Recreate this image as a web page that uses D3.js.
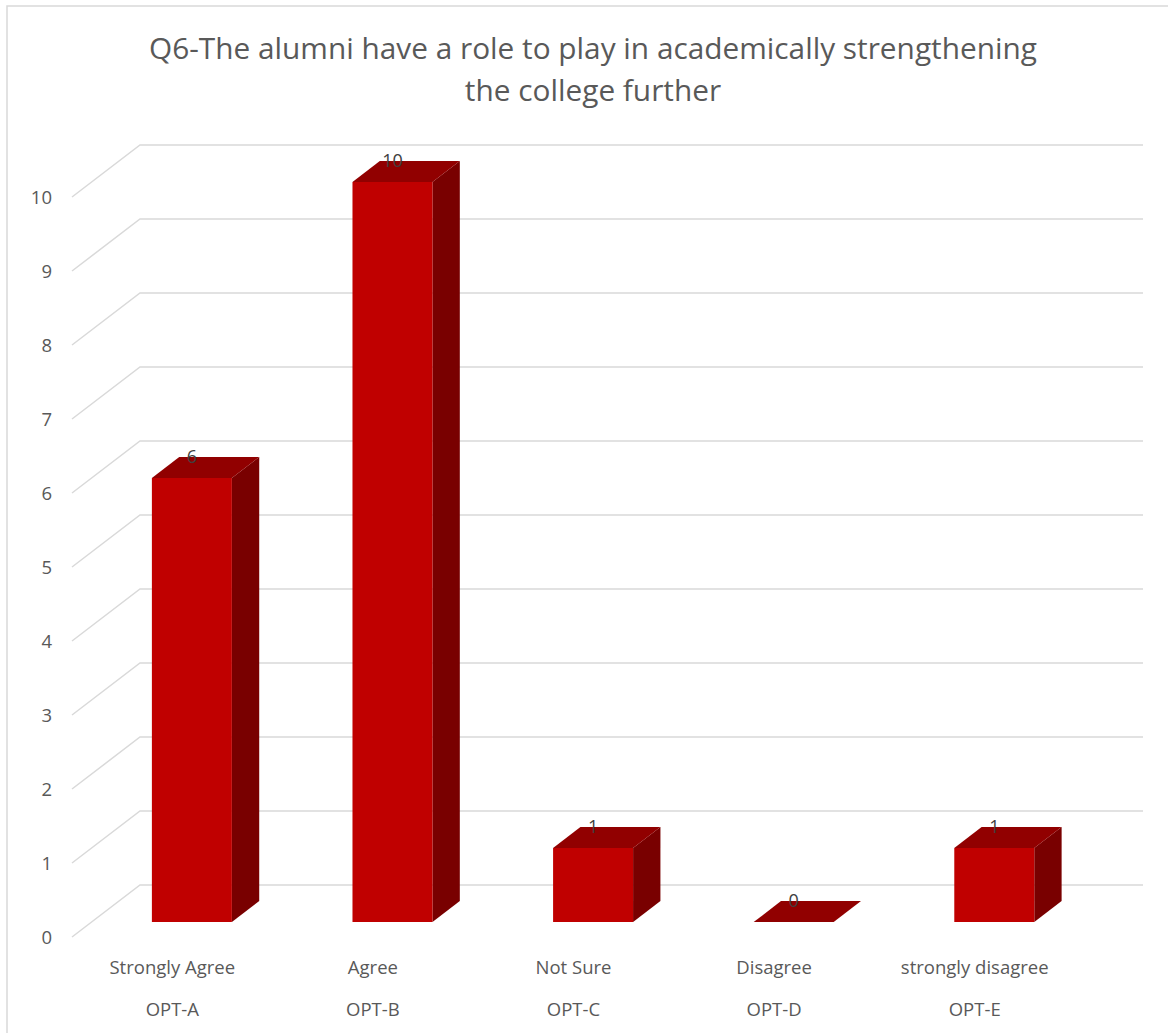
<!DOCTYPE html>
<meta charset="utf-8">
<style>
body { margin: 0; background: #fff; }
text { font-family: 'Open Sans', 'Noto Sans', sans-serif; fill: #595959; }
.grid path { fill: none; stroke: #d9d9d9; stroke-width: 1.5; }
</style>
<div id="chart"></div>
<script src="https://cdn.jsdelivr.net/npm/d3@7"></script>
<script>

const titleLines = ['Q6-The alumni have a role to play in academically strengthening', 'the college further'];
const answers = ['Strongly Agree', 'Agree', 'Not Sure', 'Disagree', 'strongly disagree'];
const options = ['OPT-A', 'OPT-B', 'OPT-C', 'OPT-D', 'OPT-E'];
const counts = [6, 10, 1, 0, 1];
const yTicks = [0, 1, 2, 3, 4, 5, 6, 7, 8, 9, 10];

const W = 1168, H = 1033;

const svg = d3.select('#chart').append('svg')
    .attr('width', W)
    .attr('height', H);

// chart border
svg.append('rect')
    .attr('x', 7).attr('y', 6)
    .attr('width', W).attr('height', H)
    .attr('fill', 'none')
    .attr('stroke', '#d9d9d9')
    .attr('stroke-width', 1.5);

// title
svg.append('text')
    .attr('text-anchor', 'middle')
    .style('font-size', '29.8px')
    .selectAll('tspan')
    .data(titleLines)
    .join('tspan')
        .attr('x', 593)
        .attr('y', (d, i) => 59 + i * 42)
        .text(d => d);

// back wall plane scales, depth z: 0 = back wall, 1 = front floor edge
const x = d3.scaleBand()
    .domain(options)
    .range([140, 1143]);

const y = d3.scaleLinear()
    .domain([0, 10])
    .range([885, 145]);

const depthX = 68, depthY = 52;
const px = (xb, z) => xb - z * depthX;
const py = (v, z) => y(v) + z * depthY;

const zFront = 0.712, zBack = 0.31;
const halfBar = 40;

// gridlines: floor diagonal + back wall line
svg.append('g')
    .attr('class', 'grid')
    .selectAll('path')
    .data(yTicks)
    .join('path')
        .attr('d', t => 'M' + px(140, 1) + ',' + py(t, 1) +
                        'L140,' + y(t) +
                        'L1143,' + y(t));

// y tick labels
svg.append('g')
    .selectAll('text')
    .data(yTicks)
    .join('text')
        .attr('x', 52)
        .attr('y', t => py(t, 1) + 1)
        .attr('dy', '0.35em')
        .attr('text-anchor', 'end')
        .style('font-size', '18.5px')
        .text(t => t);

const data = options.map((o, i) => ({ opt: o, answer: answers[i], value: counts[i] }));
const cx = d => x(d.opt) + x.bandwidth() / 2;

function poly(pts) {
    return 'M' + pts.map(p => px(p[0], p[1]) + ',' + py(p[2], p[1])).join('L') + 'Z';
}

const bars = svg.append('g')
    .selectAll('g')
    .data(data)
    .join('g');

// right side
bars.append('path')
    .attr('fill', '#790000')
    .attr('d', d => poly([
        [cx(d) + halfBar, zFront, d.value],
        [cx(d) + halfBar, zBack, d.value],
        [cx(d) + halfBar, zBack, 0],
        [cx(d) + halfBar, zFront, 0]
    ]));

// top
bars.append('path')
    .attr('fill', '#910000')
    .attr('d', d => poly([
        [cx(d) - halfBar, zFront, d.value],
        [cx(d) + halfBar, zFront, d.value],
        [cx(d) + halfBar, zBack, d.value],
        [cx(d) - halfBar, zBack, d.value]
    ]));

// front
bars.append('path')
    .attr('fill', '#c00000')
    .attr('d', d => poly([
        [cx(d) - halfBar, zFront, d.value],
        [cx(d) + halfBar, zFront, d.value],
        [cx(d) + halfBar, zFront, 0],
        [cx(d) - halfBar, zFront, 0]
    ]));

// data labels
bars.append('text')
    .attr('x', d => px(cx(d), zFront))
    .attr('y', d => py(d.value, zBack))
    .attr('dy', '0.35em')
    .attr('text-anchor', 'middle')
    .style('font-size', '18px')
    .style('fill', '#404040')
    .text(d => d.value);

// category labels (two rows)
const cats = svg.append('g')
    .selectAll('g')
    .data(data)
    .join('g')
        .attr('transform', d => 'translate(' + px(cx(d), 1) + ',0)');

cats.append('text')
    .attr('y', 974)
    .attr('text-anchor', 'middle')
    .style('font-size', '18.5px')
    .text(d => d.answer);

cats.append('text')
    .attr('y', 1016)
    .attr('text-anchor', 'middle')
    .style('font-size', '18.5px')
    .text(d => d.opt);

</script>
